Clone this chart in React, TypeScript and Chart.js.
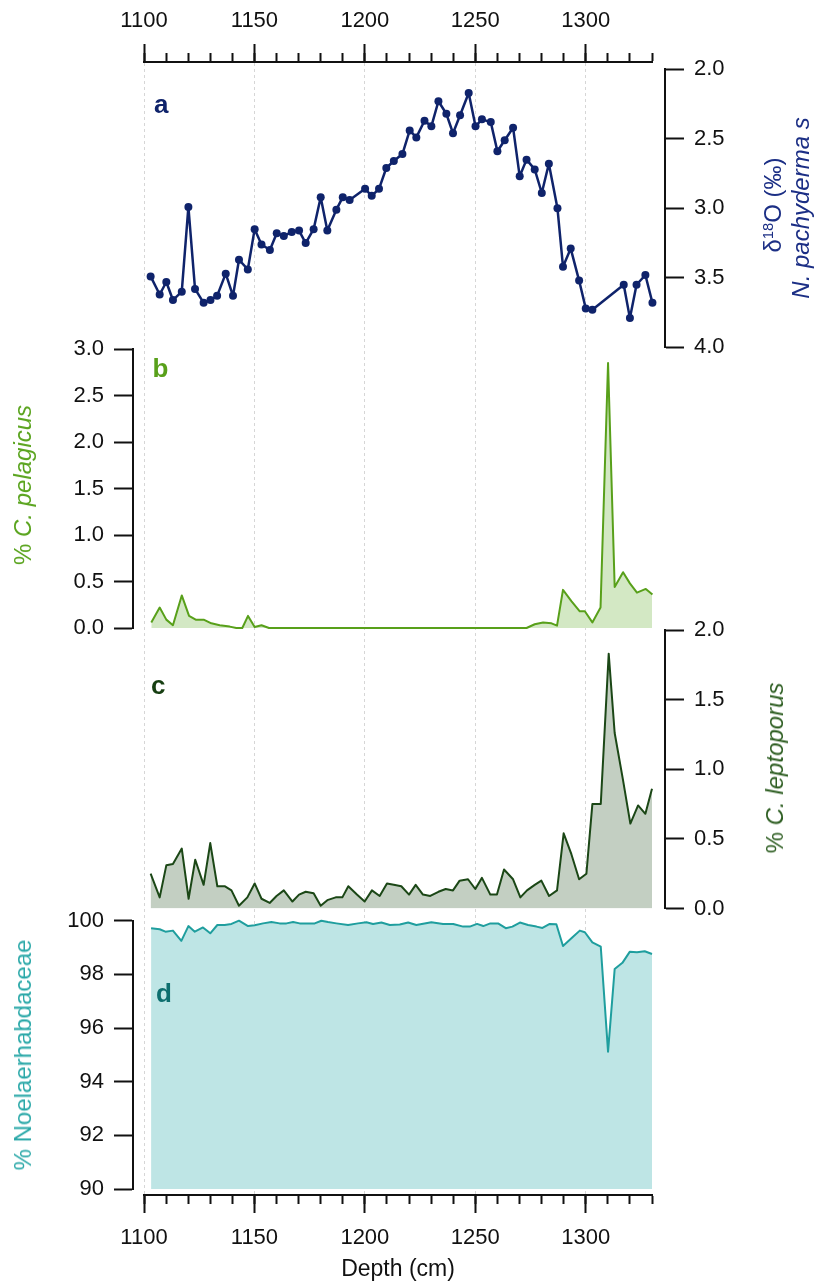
import React, { useEffect, useRef } from 'react';
import { Chart, registerables } from 'chart.js';

Chart.register(...registerables);

const FONT = "'Liberation Sans', Arial, Helvetica, sans-serif";

// ---------------- data ----------------
// Depth axis ticks (cm)
const depthMajorTicks = [1100, 1150, 1200, 1250, 1300];
const depthMinorTicks = [1100, 1110, 1120, 1130, 1140, 1150, 1160, 1170, 1180, 1190, 1200, 1210, 1220, 1230, 1240, 1250, 1260, 1270, 1280, 1290, 1300, 1310, 1320, 1330];

// (a) d18O N. pachyderma s (permil)
const d18ODepth = [1103.0, 1107.1, 1110.1, 1113.1, 1117.1, 1120.1, 1123.1, 1127.0, 1130.1, 1133.1, 1137.0, 1140.3, 1143.0, 1147.0, 1150.1, 1153.2, 1157.0, 1160.1, 1163.3, 1166.9, 1170.2, 1173.2, 1176.8, 1180.0, 1183.0, 1187.1, 1190.0, 1193.1, 1200.1, 1203.1, 1206.4, 1209.7, 1213.1, 1217.0, 1220.3, 1223.3, 1227.0, 1230.1, 1233.3, 1236.9, 1239.9, 1243.1, 1247.0, 1250.1, 1253.0, 1257.0, 1260.0, 1263.3, 1267.1, 1270.1, 1273.2, 1276.9, 1280.1, 1283.3, 1287.2, 1289.7, 1293.2, 1297.0, 1300.0, 1303.0, 1317.2, 1320.0, 1323.0, 1327.0, 1330.2];
const d18OValue = [3.49, 3.62, 3.53, 3.66, 3.60, 2.99, 3.58, 3.68, 3.66, 3.63, 3.47, 3.63, 3.37, 3.44, 3.15, 3.26, 3.30, 3.18, 3.20, 3.17, 3.16, 3.25, 3.15, 2.92, 3.16, 3.01, 2.92, 2.94, 2.86, 2.91, 2.86, 2.71, 2.66, 2.61, 2.44, 2.49, 2.37, 2.41, 2.23, 2.32, 2.46, 2.33, 2.17, 2.41, 2.36, 2.38, 2.59, 2.51, 2.42, 2.77, 2.65, 2.72, 2.89, 2.68, 3.00, 3.42, 3.29, 3.52, 3.72, 3.73, 3.55, 3.79, 3.55, 3.48, 3.68];
const d18OTicks = [2.0, 2.5, 3.0, 3.5, 4.0];

// (b) % C. pelagicus
const pelagicusDepth = [1103.3, 1107.1, 1110.1, 1113.1, 1117.1, 1120.4, 1123.4, 1127.0, 1130.5, 1134.3, 1138.8, 1141.8, 1144.5, 1147.1, 1150.1, 1153.2, 1156.6, 1200.0, 1240.0, 1273.2, 1276.9, 1280.7, 1284.5, 1287.0, 1289.7, 1293.5, 1297.3, 1299.6, 1303.0, 1306.7, 1310.1, 1313.1, 1316.9, 1320.0, 1323.2, 1327.2, 1330.2];
const pelagicusValue = [0.06, 0.22, 0.09, 0.03, 0.35, 0.13, 0.09, 0.09, 0.05, 0.03, 0.015, 0.0, 0.0, 0.13, 0.01, 0.03, 0.0, 0.0, 0.0, 0.0, 0.04, 0.06, 0.05, 0.025, 0.41, 0.29, 0.18, 0.18, 0.06, 0.22, 2.85, 0.44, 0.60, 0.48, 0.38, 0.42, 0.36];
const pelagicusTicks = [0.0, 0.5, 1.0, 1.5, 2.0, 2.5, 3.0];

// (c) % C. leptoporus
const leptoporusDepth = [1103.0, 1107.1, 1110.1, 1113.1, 1117.1, 1120.2, 1123.2, 1127.0, 1130.0, 1133.2, 1136.5, 1139.6, 1143.0, 1146.8, 1150.1, 1153.2, 1156.9, 1160.0, 1163.3, 1167.2, 1170.2, 1173.2, 1176.8, 1180.0, 1183.0, 1186.8, 1189.8, 1192.5, 1196.4, 1199.9, 1203.2, 1206.7, 1210.0, 1213.1, 1216.5, 1220.0, 1223.0, 1226.3, 1229.6, 1233.3, 1236.6, 1239.9, 1242.9, 1246.7, 1250.0, 1253.0, 1256.8, 1259.8, 1263.0, 1267.1, 1270.4, 1273.4, 1276.9, 1279.9, 1283.4, 1287.0, 1290.0, 1293.5, 1297.0, 1300.3, 1303.0, 1306.8, 1310.4, 1313.1, 1316.9, 1320.2, 1323.7, 1327.0, 1330.0];
const leptoporusValue = [0.25, 0.08, 0.31, 0.32, 0.43, 0.07, 0.35, 0.17, 0.47, 0.16, 0.16, 0.13, 0.02, 0.08, 0.18, 0.07, 0.04, 0.09, 0.13, 0.05, 0.10, 0.12, 0.11, 0.02, 0.06, 0.08, 0.08, 0.16, 0.10, 0.05, 0.13, 0.09, 0.18, 0.17, 0.16, 0.10, 0.17, 0.10, 0.09, 0.12, 0.14, 0.13, 0.20, 0.21, 0.14, 0.22, 0.10, 0.10, 0.28, 0.21, 0.08, 0.13, 0.17, 0.20, 0.09, 0.13, 0.54, 0.39, 0.21, 0.25, 0.75, 0.75, 1.83, 1.26, 0.92, 0.61, 0.74, 0.68, 0.86];
const leptoporusTicks = [0.0, 0.5, 1.0, 1.5, 2.0];

// (d) % Noelaerhabdaceae
const noelDepth = [1103.2, 1107.1, 1109.7, 1113.1, 1116.9, 1120.1, 1123.0, 1126.7, 1130.0, 1133.2, 1136.5, 1139.6, 1143.0, 1147.1, 1150.1, 1153.9, 1157.7, 1161.4, 1164.5, 1167.5, 1170.5, 1174.3, 1177.3, 1180.3, 1183.3, 1187.1, 1192.4, 1196.9, 1200.7, 1203.7, 1207.5, 1211.3, 1215.8, 1219.6, 1223.3, 1230.1, 1235.4, 1240.0, 1244.5, 1247.5, 1250.8, 1253.6, 1256.8, 1260.3, 1263.8, 1266.8, 1270.2, 1273.9, 1277.7, 1280.4, 1283.7, 1286.7, 1289.7, 1294.0, 1297.3, 1299.6, 1303.0, 1306.8, 1310.1, 1313.1, 1316.6, 1319.9, 1323.2, 1326.7, 1330.0];
const noelValue = [99.72, 99.68, 99.59, 99.63, 99.25, 99.80, 99.59, 99.75, 99.53, 99.84, 99.84, 99.88, 100.0, 99.80, 99.83, 99.90, 99.95, 99.90, 99.90, 99.95, 99.90, 99.90, 99.90, 100.0, 99.95, 99.90, 99.84, 99.90, 99.94, 99.88, 99.93, 99.84, 99.86, 99.93, 99.84, 99.94, 99.88, 99.88, 99.78, 99.78, 99.88, 99.80, 99.90, 99.90, 99.72, 99.78, 99.93, 99.84, 99.78, 99.73, 99.88, 99.87, 99.06, 99.38, 99.63, 99.57, 99.19, 99.03, 95.12, 98.20, 98.43, 98.84, 98.82, 98.86, 98.76];
const noelTicks = [90, 92, 94, 96, 98, 100];

// ---------------- layout ----------------
const W = 816;
const H = 1287;
const X_MIN = 1100;
const X_MAX = 1330;
const PLOT_L = 144;
const PLOT_R = 652;
const K = (PLOT_R - PLOT_L) / (X_MAX - X_MIN);
const AX_L = 133;
const AX_R = 665;
const TOP_AXIS_Y = 62;
const BOTTOM_AXIS_Y = 1195;
const AXIS_W = 80;
const INK = '#111111';

const tickFont = { family: FONT, size: 22 };

function frameConfig(minor: boolean): any {
  const list = minor ? depthMinorTicks : depthMajorTicks;
  const len = minor ? 9 : 18;
  const common = (pos: 'top' | 'bottom') => ({
    type: 'linear',
    axis: 'x',
    position: pos,
    min: X_MIN,
    max: X_MAX,
    afterBuildTicks: (s: any) => {
      s.ticks = list.map((v) => ({ value: v }));
    },
    afterFit: (s: any) => {
      s.height = pos === 'top' ? TOP_AXIS_Y : H - BOTTOM_AXIS_Y;
    },
    ticks: {
      display: !minor,
      autoSkip: false,
      maxRotation: 0,
      font: tickFont,
      color: INK,
      padding: pos === 'top' ? 10 : 12,
      callback: (v: any) => String(v),
    },
    grid: {
      drawOnChartArea: !minor && pos === 'top',
      color: '#d6d6d6',
      lineWidth: 1,
      tickLength: len,
      tickWidth: 2,
      tickColor: INK,
      tickBorderDash: [],
    },
    border: { display: true, color: INK, width: 2, dash: [3, 3] },
    title: {
      display: !minor && pos === 'bottom',
      text: 'Depth (cm)',
      font: { family: FONT, size: 23 },
      color: INK,
      padding: { top: 0, bottom: 4 },
    },
  });
  return {
    type: 'line',
    data: { datasets: [] },
    options: {
      responsive: false,
      animation: false,
      events: [],
      layout: { padding: { left: PLOT_L, right: W - PLOT_R, top: 0, bottom: 0 } },
      plugins: { legend: { display: false }, tooltip: { enabled: false } },
      scales: {
        x: common('top'),
        x2: common('bottom'),
        y: { display: false, min: 0, max: 1 },
      },
    },
  };
}

interface PanelOpts {
  xs: number[];
  ys: number[];
  side: 'left' | 'right';
  top: number;
  bottom: number;
  min: number;
  max: number;
  ticks: number[];
  decimals: number;
  reverse?: boolean;
  line: string;
  fill?: string;
  fillTo?: string;
  lineWidth: number;
  pointRadius?: number;
}

function panelConfig(o: PanelOpts): any {
  const leftEdge = o.side === 'left' ? AX_L : PLOT_L;
  const rightEdge = o.side === 'left' ? PLOT_R : AX_R;
  const xMin = X_MIN - (PLOT_L - leftEdge) / K;
  const xMax = X_MAX + (rightEdge - PLOT_R) / K;
  const padLeft = o.side === 'left' ? AX_L - AXIS_W : PLOT_L;
  const padRight = o.side === 'left' ? W - PLOT_R : W - AX_R - AXIS_W;
  return {
    type: 'line',
    data: {
      datasets: [
        {
          data: o.xs.map((x, i) => ({ x, y: o.ys[i] })),
          borderColor: o.line,
          borderWidth: o.lineWidth,
          borderJoinStyle: 'round',
          backgroundColor: o.fill || 'transparent',
          fill: o.fill ? o.fillTo : false,
          pointRadius: o.pointRadius || 0,
          pointBackgroundColor: o.line,
          pointBorderWidth: 0,
          tension: 0,
          clip: false,
        },
      ],
    },
    options: {
      responsive: false,
      animation: false,
      events: [],
      layout: { padding: { left: padLeft, right: padRight, top: o.top, bottom: H - o.bottom } },
      plugins: { legend: { display: false }, tooltip: { enabled: false } },
      scales: {
        x: { type: 'linear', display: false, min: xMin, max: xMax },
        y: {
          type: 'linear',
          position: o.side,
          min: o.min,
          max: o.max,
          reverse: !!o.reverse,
          afterFit: (s: any) => {
            s.width = AXIS_W;
          },
          afterBuildTicks: (s: any) => {
            s.ticks = o.ticks.map((v) => ({ value: v }));
          },
          ticks: {
            autoSkip: false,
            font: tickFont,
            color: INK,
            padding: 10,
            callback: (v: any) => Number(v).toFixed(o.decimals),
          },
          grid: {
            drawOnChartArea: false,
            tickLength: 19,
            tickWidth: 2,
            tickColor: INK,
            color: INK,
          },
          border: { display: true, color: INK, width: 2 },
        },
      },
    },
  };
}

function ChartLayer({ make }: { make: () => any }) {
  const ref = useRef<HTMLCanvasElement | null>(null);
  useEffect(() => {
    if (!ref.current) return;
    const chart = new Chart(ref.current, make());
    return () => chart.destroy();
  }, []);
  return (
    <canvas
      ref={ref}
      width={W}
      height={H}
      style={{ position: 'absolute', left: 0, top: 0, width: W, height: H }}
    />
  );
}

function VText({ x, y, color, children, size = 24 }: any) {
  return (
    <div
      style={{
        position: 'absolute',
        left: x,
        top: y,
        transform: 'translate(-50%, -50%) rotate(-90deg)',
        whiteSpace: 'nowrap',
        color,
        fontFamily: FONT,
        fontSize: size,
        lineHeight: 1,
      }}
    >
      {children}
    </div>
  );
}

function Letter({ x, baseline, color, children }: any) {
  return (
    <div
      style={{
        position: 'absolute',
        left: x,
        top: baseline - 22,
        color,
        fontFamily: FONT,
        fontSize: 26,
        fontWeight: 'bold',
        lineHeight: 1,
      }}
    >
      {children}
    </div>
  );
}

const NAVY = '#0f236b';
const GREEN = '#58a01a';
const DKGREEN = '#1b4716';
const TEAL = '#1f9e9e';

export default function App() {
  return (
    <div style={{ position: 'absolute', left: 0, top: 0, width: W, height: H, overflow: 'hidden', background: '#fff' }}>
      <ChartLayer make={() => frameConfig(false)} />
      <ChartLayer make={() => frameConfig(true)} />
      <ChartLayer
        make={() =>
          panelConfig({
            xs: d18ODepth, ys: d18OValue, side: 'right', top: 69.3, bottom: 347.3,
            min: 2, max: 4, ticks: d18OTicks, decimals: 1, reverse: true,
            line: NAVY, lineWidth: 2.5, pointRadius: 4,
          })
        }
      />
      <ChartLayer
        make={() =>
          panelConfig({
            xs: pelagicusDepth, ys: pelagicusValue, side: 'left', top: 349, bottom: 628,
            min: 0, max: 3, ticks: pelagicusTicks, decimals: 1,
            line: GREEN, fill: '#d3e8c4', fillTo: 'origin', lineWidth: 2,
          })
        }
      />
      <ChartLayer
        make={() =>
          panelConfig({
            xs: leptoporusDepth, ys: leptoporusValue, side: 'right', top: 630, bottom: 908.5,
            min: 0, max: 2, ticks: leptoporusTicks, decimals: 1,
            line: DKGREEN, fill: '#c3cfc2', fillTo: 'origin', lineWidth: 2,
          })
        }
      />
      <ChartLayer
        make={() =>
          panelConfig({
            xs: noelDepth, ys: noelValue, side: 'left', top: 920.7, bottom: 1189,
            min: 90, max: 100, ticks: noelTicks, decimals: 0,
            line: TEAL, fill: '#bee5e5', fillTo: 'start', lineWidth: 2,
          })
        }
      />

      <Letter x={154} baseline={113} color={NAVY}>a</Letter>
      <Letter x={152.5} baseline={377} color={GREEN}>b</Letter>
      <Letter x={151} baseline={694} color="#173f12">c</Letter>
      <Letter x={156} baseline={1002} color="#0d6e6e">d</Letter>

      <VText x={23} y={485} color="#5aa41e">
        % <i>C. pelagicus</i>
      </VText>
      <VText x={23} y={1055} color="#2aa8a8">
        % Noelaerhabdaceae
      </VText>
      <VText x={775} y={768} color="#2e5e22">
        % <i>C. leptoporus</i>
      </VText>
      <VText x={773} y={205} color="#1c2f85">
        {'\u03B4'}
        <span style={{ fontSize: '62%', position: 'relative', top: '-0.55em' }}>18</span>O ({'\u2030'})
      </VText>
      <VText x={801} y={208} color="#1c2f85">
        <i>N. pachyderma s</i>
      </VText>
    </div>
  );
}
